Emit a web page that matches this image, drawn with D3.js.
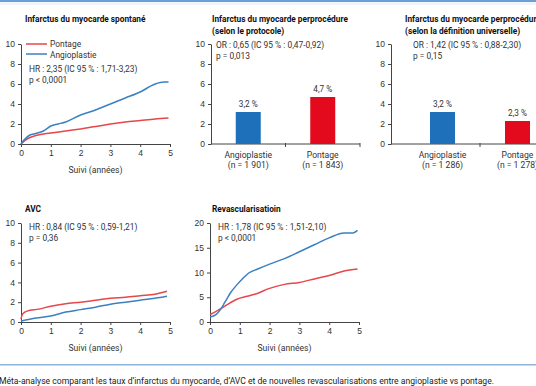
<!DOCTYPE html>
<html>
<head>
<meta charset="utf-8">
<script src="https://cdn.jsdelivr.net/npm/d3@7"></script>
<style>
  body { margin: 0; background: #fff; }
  svg { display: block; font-family: Roboto, 'Liberation Sans', sans-serif; }
  .axis text { font-size: 8.5px; fill: #333; }
  .axis path, .axis line { stroke: #444; }
</style>
</head>
<body>
<div id="chart"></div>
<script>
// Panel 1 : Infarctus du myocarde spontané (années, %)
var mi_years_ang   = [0, 0.1, 0.3, 0.5, 0.75, 1, 1.25, 1.5, 2, 2.5, 3, 3.5, 4, 4.5, 4.8, 4.95];
var mi_ang         = [0, 0.4, 0.9, 1.05, 1.3, 1.8, 2.0, 2.2, 2.9, 3.4, 4.0, 4.6, 5.2, 6.0, 6.2, 6.2];
var mi_years_pon   = [0, 0.2, 0.5, 1, 1.5, 2, 2.5, 3, 3.5, 4, 4.5, 4.95];
var mi_pon         = [0, 0.5, 0.85, 1.1, 1.3, 1.5, 1.75, 2.0, 2.2, 2.35, 2.5, 2.6];

// Panel 4 : AVC
var avc_years_pon  = [0, 0.05, 0.2, 0.6, 1, 1.5, 2, 2.5, 3, 3.5, 4, 4.5, 4.9];
var avc_pon        = [0.3, 0.8, 1.1, 1.3, 1.6, 1.85, 2.0, 2.2, 2.4, 2.5, 2.65, 2.8, 3.1];
var avc_years_ang  = [0, 0.5, 1, 1.5, 2, 2.5, 3, 3.5, 4, 4.5, 4.9];
var avc_ang        = [0.1, 0.4, 0.6, 1.0, 1.25, 1.5, 1.8, 2.0, 2.2, 2.4, 2.6];

// Panel 5 : Revascularisation
var rev_years_ang  = [0, 0.2, 0.35, 0.5, 0.7, 0.9, 1.1, 1.3, 1.6, 2, 2.5, 3, 3.5, 4, 4.5, 4.8, 4.95];
var rev_ang        = [1.0, 1.5, 2.5, 4, 6, 7.5, 8.8, 9.9, 10.7, 11.7, 12.8, 14.2, 15.6, 17, 18, 18, 18.5];
var rev_years_pon  = [0, 0.25, 0.5, 0.9, 1.25, 1.5, 2, 2.5, 3, 3.5, 4, 4.5, 4.95];
var rev_pon        = [1.5, 2.3, 3.2, 4.6, 5.2, 5.6, 6.8, 7.6, 8.0, 8.7, 9.4, 10.3, 10.7];

// Panels 2 & 3 : barres
var bar_cats       = ['Angioplastie', 'Pontage'];
var proto_values   = [3.2, 4.7];
var proto_n        = ['(n = 1 901)', '(n = 1 843)'];
var univ_values    = [3.2, 2.3];
var univ_n         = ['(n = 1 286)', '(n = 1 278)'];

var xTicks = [0, 1, 2, 3, 4, 5];
var yTicks10 = [0, 2, 4, 6, 8, 10];
var yTicks20 = [0, 5, 10, 15, 20];

var RED = '#e6474c', BLUE = '#3a80c2';
var BAR_BLUE = '#1e70bb', BAR_RED = '#e20a1c';

var svg = d3.select('#chart').append('svg')
    .attr('width', 536)
    .attr('height', 386);

// cadre : filet bleu en haut et en bas
svg.append('rect').attr('x', 0).attr('y', 0).attr('width', 536).attr('height', 2).attr('fill', '#6f9fd2');
svg.append('rect').attr('x', 0).attr('y', 2).attr('width', 536).attr('height', 3).attr('fill', '#eef5fc');
svg.append('rect').attr('x', 0).attr('y', 364).attr('width', 536).attr('height', 1.5).attr('fill', '#8fb5dc');

svg.append('text')
    .attr('x', -1).attr('y', 384)
    .style('font-size', '8.6px').style('fill', '#222')
    .text('Méta-analyse comparant les taux d\u2019infarctus du myocarde, d\u2019AVC et de nouvelles revascularisations entre angioplastie vs pontage.');

function title(x, y, lines) {
    lines.forEach((t, i) => {
        svg.append('text')
            .attr('x', x).attr('y', y + i * 12)
            .style('font-size', '8.3px').style('font-weight', 'bold').style('fill', '#111')
            .text(t);
    });
}

function note(x, y, lines) {
    lines.forEach((t, i) => {
        svg.append('text')
            .attr('x', x).attr('y', y + i * 11)
            .style('font-size', '8.4px').style('fill', '#333')
            .text(t);
    });
}

function LineChart(p) {
    var g = svg.append('g').attr('transform', `translate(${p.left}, ${p.top})`);
    var x = d3.scaleLinear().domain([0, 5]).range([0, p.width]);
    var y = d3.scaleLinear().domain([0, p.ymax]).range([p.height, 0]);

    g.append('g').attr('class', 'axis')
        .attr('transform', `translate(0, ${p.height})`)
        .call(d3.axisBottom(x).tickValues(xTicks).tickSize(3).tickSizeOuter(0).tickFormat(d3.format('d')));
    g.append('g').attr('class', 'axis')
        .call(d3.axisLeft(y).tickValues(p.yTicks).tickSize(3).tickSizeOuter(0));

    g.append('text')
        .attr('x', x(2.5)).attr('y', p.height + 29)
        .attr('text-anchor', 'middle')
        .style('font-size', '8.6px').style('fill', '#333')
        .text('Suivi (années)');

    var line = d3.line()
        .x(d => x(d[0]))
        .y(d => y(d[1]))
        .curve(d3.curveMonotoneX);

    p.series.forEach(s => {
        g.append('path')
            .datum(d3.zip(s.years, s.values))
            .attr('d', line)
            .style('fill', 'none')
            .style('stroke', s.color)
            .style('stroke-width', 1.5);
    });
}

function BarChart(p) {
    var g = svg.append('g').attr('transform', `translate(${p.left}, ${p.top})`);
    var y = d3.scaleLinear().domain([0, 10]).range([p.height, 0]);
    var pad = 1 - 25 / ((p.band[1] - p.band[0]) / 2);
    var x = d3.scaleBand().domain(bar_cats).range(p.band).paddingInner(pad).paddingOuter(pad / 2);

    // axe x : ligne + petites graduations aux limites des catégories
    g.append('line').attr('x1', 0).attr('x2', p.axisEnd).attr('y1', p.height).attr('y2', p.height)
        .attr('stroke', '#444');
    g.selectAll('.sep')
        .data(bar_cats)
        .enter().append('line')
        .attr('x1', d => x(d) + x.bandwidth() + x.step() * pad / 2)
        .attr('x2', d => x(d) + x.bandwidth() + x.step() * pad / 2)
        .attr('y1', p.height - 1).attr('y2', p.height + 3)
        .attr('stroke', '#444');

    g.append('g').attr('class', 'axis')
        .call(d3.axisLeft(y).tickValues(yTicks10).tickSize(3).tickSizeOuter(0));

    g.selectAll('.bar')
        .data(p.values)
        .enter().append('rect')
        .attr('x', (d, i) => x(bar_cats[i]))
        .attr('y', d => y(d))
        .attr('width', x.bandwidth())
        .attr('height', d => p.height - y(d))
        .attr('fill', (d, i) => i == 0 ? BAR_BLUE : BAR_RED);

    g.selectAll('.val')
        .data(p.values)
        .enter().append('text')
        .attr('x', (d, i) => x(bar_cats[i]) + x.bandwidth() / 2)
        .attr('y', d => y(d) - 5)
        .attr('text-anchor', 'middle')
        .style('font-size', '8.2px').style('fill', '#333')
        .text(d => String(d).replace('.', ',') + ' %');

    bar_cats.forEach((c, i) => {
        var cx = x(c) + x.bandwidth() / 2;
        g.append('text').attr('x', cx).attr('y', p.height + 14)
            .attr('text-anchor', 'middle').style('font-size', '8.6px').style('fill', '#333').text(c);
        g.append('text').attr('x', cx).attr('y', p.height + 24)
            .attr('text-anchor', 'middle').style('font-size', '8.6px').style('fill', '#333').text(p.n[i]);
    });
}

// Panel 1
title(25, 22, ['Infarctus du myocarde spontané']);
LineChart({
    left: 21, top: 44, width: 149, height: 100, ymax: 10, yTicks: yTicks10,
    series: [
        {years: mi_years_pon, values: mi_pon, color: RED},
        {years: mi_years_ang, values: mi_ang, color: BLUE}
    ]
});
svg.append('line').attr('x1', 26).attr('x2', 47).attr('y1', 44).attr('y2', 44).attr('stroke', RED).attr('stroke-width', 1.5);
svg.append('line').attr('x1', 26).attr('x2', 47).attr('y1', 54).attr('y2', 54).attr('stroke', BLUE).attr('stroke-width', 1.5);
note(50, 47, ['Pontage', 'Angioplastie']);
note(29, 72, ['HR : 2,35 (IC 95 % : 1,71-3,23)', 'p < 0,0001']);

// Panel 2
title(212, 22, ['Infarctus du myocarde perprocédure', '(selon le protocole)']);
BarChart({left: 211, top: 44, height: 100, band: [0, 149], axisEnd: 149, values: proto_values, n: proto_n});
note(216, 48, ['OR : 0,65 (IC 95 % : 0,47-0,92)', 'p = 0,013']);

// Panel 3
title(405, 22, ['Infarctus du myocarde perprocédure', '(selon la définition universelle)']);
BarChart({left: 391, top: 44, height: 100, band: [14, 164], axisEnd: 180, values: univ_values, n: univ_n});
note(413, 48, ['OR : 1,42 (IC 95 % : 0,88-2,30)', 'p = 0,15']);

// Panel 4
title(25, 212, ['AVC']);
LineChart({
    left: 21, top: 223, width: 149, height: 99, ymax: 10, yTicks: yTicks10,
    series: [
        {years: avc_years_pon, values: avc_pon, color: RED},
        {years: avc_years_ang, values: avc_ang, color: BLUE}
    ]
});
note(29, 230, ['HR : 0,84 (IC 95 % : 0,59-1,21)', 'p = 0,36']);

// Panel 5
title(212, 212, ['Revascularisatioin']);
LineChart({
    left: 210, top: 223, width: 149, height: 99, ymax: 20, yTicks: yTicks20,
    series: [
        {years: rev_years_pon, values: rev_pon, color: RED},
        {years: rev_years_ang, values: rev_ang, color: BLUE}
    ]
});
note(218, 230, ['HR : 1,78 (IC 95 % : 1,51-2,10)', 'p < 0,0001']);
</script>
</body>
</html>
